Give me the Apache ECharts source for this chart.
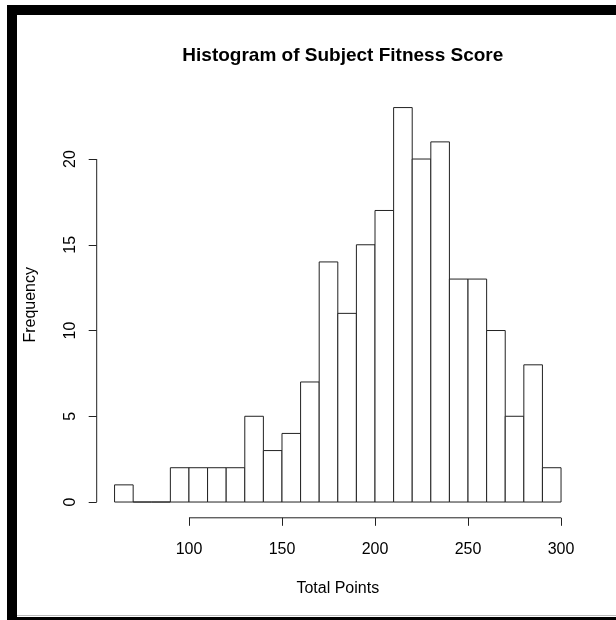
<!DOCTYPE html>
<html>
<head>
<meta charset="utf-8">
<script src="https://cdn.jsdelivr.net/npm/echarts@6/dist/echarts.min.js"></script>
<style>
html,body{margin:0;padding:0;background:#fff;}
#chart{width:616px;height:620px;}
</style>
</head>
<body>
<div id="chart"></div>
<script>
// ---- data ----
const binEdges = [60,70,80,90,100,110,120,130,140,150,160,170,180,190,200,210,220,230,240,250,260,270,280,290,300];
const counts = [1,0,0,2,2,2,2,5,3,4,7,14,11,15,17,23,20,21,13,13,10,5,8,2];
const xTicks = [100,150,200,250,300];
const yTicks = [0,5,10,15,20];
const titleText = 'Histogram of Subject Fitness Score';
const xLabel = 'Total Points';
const yLabel = 'Frequency';

// R-style 4% axis range extension
const xLo = binEdges[0], xHi = binEdges[binEdges.length-1];
const yLo = 0, yHi = Math.max.apply(null, counts);
const xPad = 0.04*(xHi-xLo), yPad = 0.04*(yHi-yLo);

const bars = counts.map((c,i)=>[binEdges[i], binEdges[i+1], c]);

const chart = echarts.init(document.getElementById('chart'), null, {renderer:'canvas'});
const lineColor = '#222';
const font = 'Liberation Sans, Arial, sans-serif';

chart.setOption({
  backgroundColor:'#fff',
  animation:false,
  title:{
    text:titleText,
    left:337.8, textAlign:'center', top:41,
    textStyle:{fontFamily:font,fontSize:19,fontWeight:'bold',color:'#000'}
  },
  grid:{left:96.7,right:37.1,top:91.8,bottom:102.2,containLabel:false},
  xAxis:{
    type:'value', min:xLo-xPad, max:xHi+xPad,
    axisLine:{show:false,onZero:false},
    splitLine:{show:false},
    axisTick:{show:true,inside:false,length:8,customValues:xTicks,lineStyle:{color:lineColor,width:1}},
    axisLabel:{customValues:xTicks,margin:24,color:'#000',fontFamily:font,fontSize:16},
    name:xLabel, nameLocation:'middle', nameGap:63,
    nameTextStyle:{fontFamily:font,fontSize:16,color:'#000'}
  },
  yAxis:{
    type:'value', min:yLo-yPad, max:yHi+yPad,
    axisLine:{show:false,onZero:false},
    splitLine:{show:false},
    axisTick:{show:true,inside:false,length:8,customValues:yTicks,lineStyle:{color:lineColor,width:1}},
    axisLabel:{customValues:yTicks,rotate:90,margin:18,color:'#000',fontFamily:font,fontSize:16},
    name:yLabel, nameLocation:'middle', nameGap:58,
    nameTextStyle:{fontFamily:font,fontSize:16,color:'#000'}
  },
  graphic:[
    {type:'rect',shape:{x:7,y:5,width:609,height:10},style:{fill:'#000'},z:100},
    {type:'rect',shape:{x:7,y:5,width:10,height:615},style:{fill:'#000'},z:100},
    {type:'rect',shape:{x:7,y:617,width:609,height:3},style:{fill:'#000'},z:100},
    {type:'rect',shape:{x:17,y:615,width:599,height:1},style:{fill:'#bbb'},z:100}
  ],
  series:[
    {
      type:'custom',
      data:bars,
      clip:false,
      renderItem:function(params, api){
        const p0 = api.coord([api.value(0), api.value(2)]);
        const p1 = api.coord([api.value(1), 0]);
        return {
          type:'rect',
          shape:{x:p0[0], y:p0[1], width:p1[0]-p0[0], height:p1[1]-p0[1]},
          style:{fill:'#fff', stroke:lineColor, lineWidth:1}
        };
      }
    },
    {
      type:'custom',
      data:[[0]],
      clip:false,
      renderItem:function(params, api){
        const a = api.coord([xTicks[0], yLo-yPad]);
        const b = api.coord([xTicks[xTicks.length-1], yLo-yPad]);
        const c = api.coord([xLo-xPad, yTicks[0]]);
        const d = api.coord([xLo-xPad, yTicks[yTicks.length-1]]);
        return {type:'group', children:[
          {type:'line',shape:{x1:a[0],y1:a[1],x2:b[0],y2:b[1]},style:{stroke:lineColor,lineWidth:1}},
          {type:'line',shape:{x1:c[0],y1:c[1],x2:d[0],y2:d[1]},style:{stroke:lineColor,lineWidth:1}}
        ]};
      }
    }
  ]
});
</script>
</body>
</html>
